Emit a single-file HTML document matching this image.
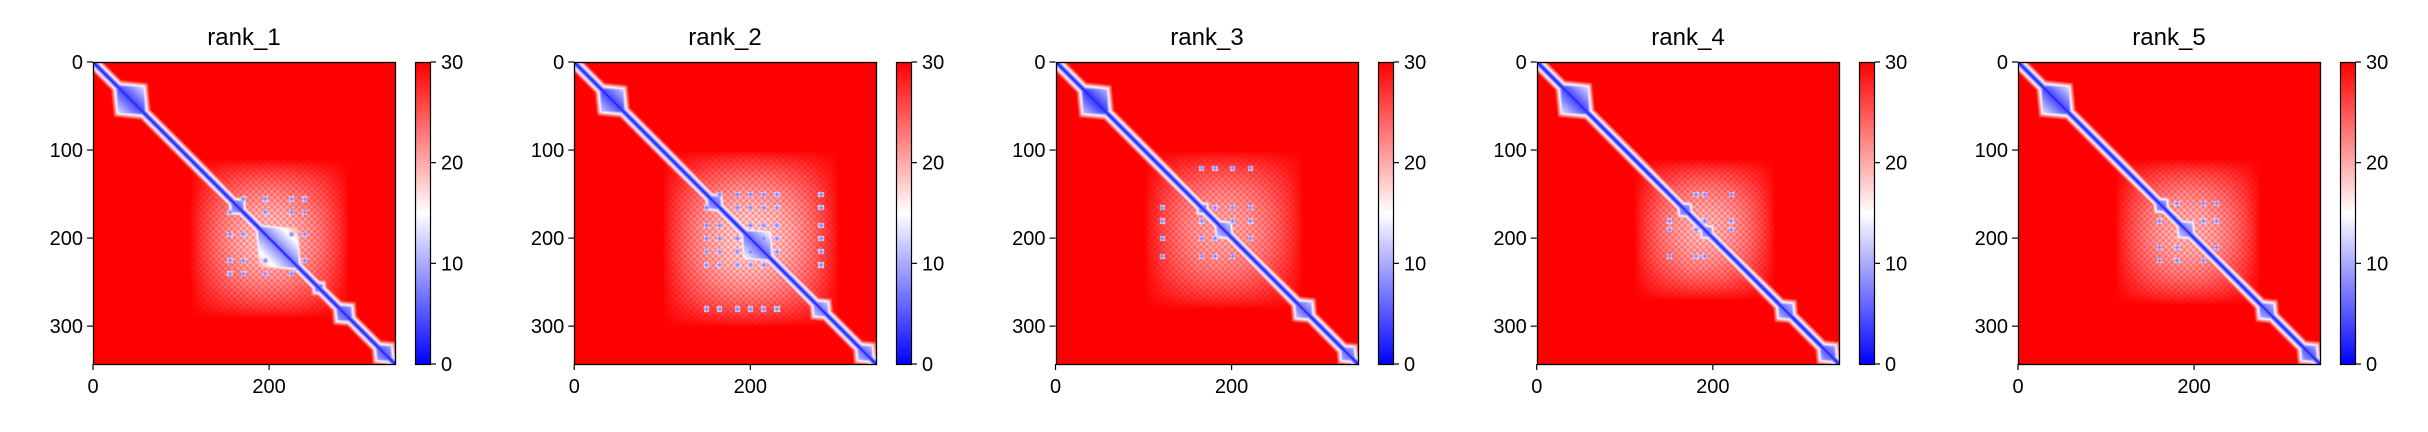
<!DOCTYPE html>
<html><head><meta charset="utf-8"><style>
html,body{margin:0;padding:0;background:#fff;}
#wrap{position:relative;width:2428px;height:432px;overflow:hidden;font-family:"Liberation Sans","DejaVu Sans",sans-serif;}
canvas{position:absolute;}
svg{position:absolute;left:0;top:0;}
</style></head><body>
<div id="wrap">
<svg id="ov" width="2428" height="432"></svg>
</div>
<script>
const panelTitles = ["rank_1","rank_2","rank_3","rank_4","rank_5"];
const nRes = 343;
const yTicks = [0,100,200,300];
const xTicks = [0,200];
const cbTicks = [0,10,20,30];
const vmax = 30;
// per-panel low-error domain blocks along the diagonal: [start, end, value]
const blocks1 = [[25,60,4],[155,172,6],[185,235,7],[250,262,6],[275,295,5],[320,340,5]];
const blocks2 = [[28,58,4],[150,168,6],[190,225,6],[270,290,7],[320,340,6]];
const blocks3 = [[28,60,3],[160,172,6],[180,200,7],[270,292,6],[322,340,6]];
const blocks4 = [[25,60,4],[160,175,6],[185,200,7],[272,292,6],[320,340,5]];
const blocks5 = [[25,60,4],[155,170,6],[180,200,7],[272,292,6],[320,340,5]];
// interface core region: [start, end, min value]
const cores = [[110,290,16],[100,300,15],[100,280,18],[110,270,17],[110,275,17]];
// residues forming interacting spots
const spots1 = [155,170,195,225,240];
const spots2 = [150,165,185,200,215,230,280];
const spots3 = [120,165,180,200,220];
const spots4 = [150,180,190,220];
const spots5 = [160,180,210,225];
const allBlocks=[blocks1,blocks2,blocks3,blocks4,blocks5];
const allSpots=[spots1,spots2,spots3,spots4,spots5];

const L0=93, STEP=481.25, TOP=62, SZ=302;
function xScale(p,r){return L0+p*STEP + r*SZ/nRes;}
function yScale(r){return TOP + r*SZ/nRes;}
function cbY(v){return TOP+SZ - v/vmax*SZ;}
function bwr(v){const t=Math.max(0,Math.min(1,v/vmax));
 if(t<0.5){const s=t/0.5;return [Math.round(255*s),Math.round(255*s),255];}
 const s=(t-0.5)/0.5;return [255,Math.round(255*(1-s)),Math.round(255*(1-s))];}
function bump(x,a,b){if(x<a||x>b)return 0;return Math.pow(Math.sin(Math.PI*(x-a)/(b-a)),0.8);}
function pae(p,i,j){
 let v=30;const d=Math.abs(i-j);
 v=Math.min(v,1+d*2.4);
 for(const [a,b,val] of allBlocks[p]){
  const c=(a+b)/2, h=(b-a)/2, m=(i+j)/2;
  const r=d/2+Math.abs(m-c);
  if(r<h-3){v=Math.min(v,val+d*0.3);} else if(r<h+6){v=Math.min(v,val+d*0.3+(r-h+3)*2.6);}
 }
 const [c0,c1,mn]=cores[p];
 const t=bump(i,c0,c1)*bump(j,c0,c1);
 const tex=0.75+0.25*Math.cos(i*0.9)*Math.cos(j*0.9)+0.1*Math.sin(i*2.3+j*1.7);
 v=Math.min(v,30-(30-mn)*t*tex);
 const sp=allSpots[p];
 for(const s1 of sp){ const di=Math.abs(i-s1); if(di<3){ for(const s2 of sp){ const dj=Math.abs(j-s2); if(dj<3){v=Math.min(v,6+(di+dj)*1.6);} } } }
 return v;
}
const NS="http://www.w3.org/2000/svg";
const ov=document.getElementById('ov');
function mk(tag,attrs,name,parent){const e=document.createElementNS(NS,tag);for(const k in attrs)e.setAttribute(k,attrs[k]);
 
 
 (parent||ov).appendChild(e);return e;}
const wrap=document.getElementById('wrap');
for(let p=0;p<5;p++){
 const left=xScale(p,0);
 const cv=document.createElement('canvas');cv.width=SZ;cv.height=SZ;
 cv.style.left=Math.round(left)+'px';cv.style.top=TOP+'px';
 
 
 wrap.insertBefore(cv,ov);
 const ctx=cv.getContext('2d');const img=ctx.createImageData(SZ,SZ);
 for(let y=0;y<SZ;y++){const i=y*nRes/SZ;for(let x=0;x<SZ;x++){const j=x*nRes/SZ;const c=bwr(pae(p,i,j));const k=(y*SZ+x)*4;img.data[k]=c[0];img.data[k+1]=c[1];img.data[k+2]=c[2];img.data[k+3]=255;}}
 ctx.putImageData(img,0,0);
 const g=mk('g',{},'panel-'+panelTitles[p]);
 mk('rect',{x:Math.round(left)+0.5,y:TOP+0.5,width:SZ,height:SZ,fill:'none',stroke:'#000','stroke-width':1.3},'heatmap-frame',g);
 const tt=mk('text',{x:Math.round(left)+SZ/2,y:45,'text-anchor':'middle','font-size':24,fill:'#000'},'panel-title',g);tt.textContent=panelTitles[p];
 for(const t of yTicks){const y=yScale(t);
  mk('line',{x1:left-6,x2:left,y1:y,y2:y,stroke:'#000','stroke-width':1.2},'y-tick',g);
  const tx=mk('text',{x:left-10,y:y+7,'text-anchor':'end','font-size':20},'y-tick-label',g);tx.textContent=t;}
 for(const t of xTicks){const x=xScale(p,t);
  mk('line',{x1:x,x2:x,y1:TOP+SZ,y2:TOP+SZ+6,stroke:'#000','stroke-width':1.2},'x-tick',g);
  const tx=mk('text',{x:x,y:TOP+SZ+29,'text-anchor':'middle','font-size':20},'x-tick-label',g);tx.textContent=t;}
 const cx=Math.round(left)+SZ+20;
 const gid='cbg'+p;
 const defs=mk('defs',{},'colorbar-defs',g);
 const lg=mk('linearGradient',{id:gid,x1:0,y1:1,x2:0,y2:0},'colorbar-gradient',defs);
 mk('stop',{offset:'0','stop-color':'#0000ff'},'stop',lg);mk('stop',{offset:'0.5','stop-color':'#ffffff'},'stop',lg);mk('stop',{offset:'1','stop-color':'#ff0000'},'stop',lg);
 mk('rect',{x:cx+0.5,y:TOP+0.5,width:15,height:SZ,fill:'url(#'+gid+')',stroke:'#000','stroke-width':1.2},'colorbar',g);
 for(const t of cbTicks){const y=cbY(t);
  mk('line',{x1:cx+15.5,x2:cx+21,y1:y,y2:y,stroke:'#000','stroke-width':1.2},'colorbar-tick',g);
  const tx=mk('text',{x:cx+26,y:y+7,'font-size':20},'colorbar-tick-label',g);tx.textContent=t;}
}
</script>
</body></html>
